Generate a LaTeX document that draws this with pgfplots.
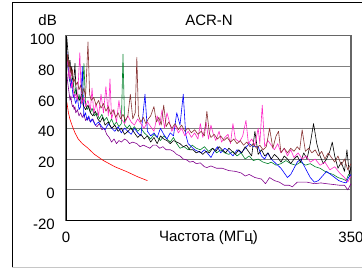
\documentclass[border=0pt]{standalone}
\usepackage{pgfplots}
\pgfplotsset{compat=1.18}
\usepackage{fontspec}
\setmainfont{Liberation Sans}
\definecolor{cgreen}{RGB}{0,128,40}
\definecolor{cpink}{RGB}{255,40,200}
\definecolor{cbrown}{RGB}{135,50,50}
\definecolor{cpurple}{RGB}{128,0,140}
\definecolor{cblue}{RGB}{0,0,255}
\definecolor{gridgray}{RGB}{128,128,128}
\begin{document}
\begin{tikzpicture}
\useasboundingbox (0,0) rectangle (362bp,269bp);
\draw[black, line width=0.8bp] (363bp,266.5bp) -- (12.3bp,266.5bp) -- (12.3bp,1.7bp);
\draw[gray!45, line width=0.8bp] (12.3bp,1.7bp) -- (363bp,1.7bp);
\begin{axis}[
  at={(66bp,48.3bp)}, anchor=south west,
  scale only axis, width=285bp, height=185bp,
  xmin=0, xmax=350, ymin=-20, ymax=100,
  xtick={0,350}, ytick={-20,0,20,40,60,80,100},
  major tick length=0pt,
  ymajorgrids, grid style={gridgray, line width=0.9bp},
  axis line style={draw=gray!80!black, line width=1.2bp},
  font=\fontsize{15bp}{18bp}\selectfont,
  /pgf/number format/assume math mode=true,
  ticklabel style={font=\fontsize{15bp}{18bp}\selectfont},
  yticklabel style={anchor=east, inner sep=0pt, xshift=-11bp, yshift=-3.5bp},
  xticklabel style={anchor=base, inner sep=0pt, yshift=-22bp},
  xlabel={Частота (МГц)},
  xlabel style={at={(0.5,0)}, anchor=base, inner sep=0pt, yshift=-21bp, font=\fontsize{15bp}{18bp}\selectfont},
  every axis plot/.append style={line width=0.6bp, line join=round},
]
% purple
\addplot[cpurple] coordinates {(1,76)(2,70)(3,66)(4,62)(5,58)(6,61)(7,56)(8,54)(9,55)(10,52)(11,54)(12,50)(14,52)(16,48)(18,50)(20,47)(22,49)(24,45)(27,47)(30,44)(33,46)(36,42)(38,41)(41,43)(44,39)(47,40)(50,36)(53,34)(56,31)(59,33)(62,30)(65,32)(68,31)(72,33)(75,32)(78,30)(82,31)(87,30)(91,28)(95,29)(99,28)(103,27)(107,29)(111,29)(115,27)(119,28)(123,26)(128,26)(132,25)(136,23)(140,22)(144,20)(148,19.5)(152,18)(156,18.5)(160,17)(165,17.5)(170,15)(173,14.5)(178,15.5)(185,14)(192,14)(200,12.5)(208,12)(215,11)(220,9)(225,10)(232,8)(240,7)(245,4)(250,8)(256,6)(262,5)(268,3)(274,3)(278,2)(284,5)(290,5)(296,5)(305,4)(313,4.5)(320,4)(328,3.5)(336,3)(342,3)(346,0)(350,4)};
% green
\addplot[cgreen] coordinates {(1,85)(2,80)(3,76)(4,72)(5,70)(6,74)(7,68)(8,66)(9,70)(10,64)(11,62)(12,66)(14,60)(15,58)(16,62)(18,56)(20,58)(22,82)(24,56)(26,52)(28,54)(30,50)(32,53)(35,48)(38,50)(41,46)(44,49)(47,45)(50,47)(53,43)(56,46)(59,42)(62,44)(65,41)(68,43)(70,88)(72,42)(75,40)(78,42)(81,39)(84,41)(88,38)(92,40)(96,37)(100,35)(104,33)(108,36)(112,34)(116,32)(120,35)(124,33)(128,31)(132,34)(136,30)(140,27)(145,28)(150,26)(155,29)(160,27)(165,26)(170,28)(175,25)(180,27)(185,24)(190,26)(195,24)(200,23)(205,25)(210,22)(215,24)(220,20)(225,22)(230,19)(236,20)(242,18)(248,17)(252,18)(258,16)(264,17)(270,19)(276,17)(282,16)(288,18)(294,16)(300,17)(306,15)(312,14)(318,12)(322,11)(328,10)(334,8)(340,7)(344,6)(347,10)(350,8)};
% blue
\addplot[cblue] coordinates {(1,90)(2,84)(3,78)(4,74)(5,70)(6,66)(7,72)(8,64)(9,60)(10,62)(11,58)(12,56)(14,60)(16,52)(18,54)(20,80)(22,47)(24,50)(26,45)(28,48)(30,44)(32,46)(36,42)(40,44)(44,41)(48,39)(52,43)(56,40)(60,38)(64,41)(68,37)(72,40)(76,38)(80,36)(84,40)(88,37)(92,35)(97,62)(100,38)(104,35)(108,37)(112,34)(116,40)(120,36)(124,33)(128,37)(132,35)(136,50)(140,42)(144,62)(147,36)(150,30)(154,28)(158,26)(162,25)(166,24)(170,26)(175,23)(178,21)(182,25)(186,28)(190,24)(195,27)(200,25)(205,22)(210,26)(215,24)(220,27)(225,30)(230,28)(236,28)(240,22)(244,20)(248,24)(252,20)(256,18)(260,16)(264,14)(268,11)(272,8)(276,10)(280,14)(284,18)(288,20)(292,16)(296,12)(300,8)(305,5)(310,6)(315,9)(320,12)(325,10)(330,8)(335,6)(340,5)(344,4.5)(347,8)(350,10)};
% black
\addplot[black] coordinates {(1,99)(2,92)(3,86)(4,80)(5,84)(6,76)(7,80)(8,72)(9,70)(10,74)(11,82)(12,68)(13,62)(15,60)(17,58)(19,62)(21,55)(24,52)(27,55)(30,50)(33,48)(36,51)(39,46)(42,44)(45,47)(48,42)(52,44)(56,40)(60,42)(64,38)(68,40)(72,36)(76,38)(80,40)(84,37)(88,34)(92,36)(96,33)(100,35)(104,31)(108,34)(112,30)(116,35)(120,33)(124,32)(128,30)(132,32)(136,31)(140,30)(144,28)(148,29)(152,26)(156,26)(160,24)(164,25)(168,23)(172,25)(176,24)(180,27)(184,25)(188,28)(192,26)(196,24)(200,27)(204,25)(208,23)(212,26)(216,24)(220,28)(224,25)(228,22)(232,38)(236,23)(240,26)(244,22)(248,24)(252,20)(256,23)(260,21)(264,18)(268,22)(272,20)(276,17)(280,20)(284,22)(288,18)(292,24)(296,20)(300,30)(304,43)(308,30)(312,22)(316,17)(320,20)(324,25)(327,31)(330,22)(334,14)(338,18)(342,12)(345,26)(348,10)(350,15)};
% pink
\addplot[cpink] coordinates {(1,88)(2,82)(3,76)(4,72)(5,78)(6,70)(7,66)(8,70)(9,64)(10,60)(12,62)(14,58)(17,89)(19,56)(22,60)(24,54)(27,58)(30,52)(32,66)(34,50)(37,56)(40,48)(43,62)(46,50)(49,67)(52,48)(54,72)(56,46)(59,52)(62,44)(65,58)(68,46)(72,43)(76,48)(80,44)(84,42)(88,46)(92,43)(96,40)(100,44)(104,41)(108,38)(112,48)(115,42)(118,52)(121,40)(124,50)(127,44)(130,38)(134,42)(138,37)(142,40)(146,35)(150,38)(154,34)(158,37)(162,33)(165,43)(168,34)(172,44)(175,33)(178,42)(181,36)(184,32)(188,38)(191,31)(195,34)(199,36)(202,30)(205,43)(208,33)(213,31)(217,35)(221,45)(224,30)(228,33)(232,29)(236,40)(238,30)(241,55)(244,28)(248,32)(252,29)(256,26)(260,30)(264,24)(268,27)(272,22)(276,26)(280,21)(285,24)(290,20)(295,22)(300,18)(306,20)(312,16)(318,18)(324,13)(330,15)(336,11)(342,8)(346,5)(350,9)};
% brown
\addplot[cbrown] coordinates {(1,82)(2,88)(3,80)(4,84)(5,76)(6,80)(7,74)(8,78)(9,70)(10,72)(12,68)(14,70)(16,65)(18,68)(20,62)(22,66)(24,60)(27,96)(29,62)(31,58)(34,60)(37,55)(40,58)(43,53)(46,56)(49,51)(52,54)(55,49)(58,52)(61,47)(64,50)(67,46)(70,49)(73,45)(76,48)(79,62)(82,46)(85,50)(87,86)(89,48)(92,44)(95,47)(98,43)(101,46)(104,48)(108,54)(111,44)(114,47)(117,42)(120,55)(123,41)(126,44)(130,40)(134,43)(138,39)(142,42)(146,38)(150,40)(154,37)(158,39)(162,36)(166,38)(170,35)(173,51)(176,37)(178,34)(182,36)(186,33)(190,35)(194,32)(198,34)(202,31)(206,33)(210,30)(214,32)(218,29)(222,31)(226,28)(230,30)(234,27)(238,29)(242,26)(246,28)(250,40)(254,27)(258,35)(261,38)(264,24)(268,27)(272,24)(276,27)(280,25)(284,28)(287,26)(290,39)(294,25)(298,27)(302,24)(306,26)(310,22)(314,25)(318,20)(322,24)(326,21)(330,18)(334,22)(338,16)(342,20)(346,13)(350,17)};
% red
\addplot[red] coordinates {(1,57)(3,50)(5,45.5)(8,41)(11,37)(15,33)(20,30)(26,27.5)(35,23)(46,19)(60,15)(75,11.7)(88,8.5)(100,6)};
\draw[black, line width=1bp] (rel axis cs:0,1) -- (rel axis cs:0,0) -- (rel axis cs:1,0);
\end{axis}
\node[anchor=base, inner sep=0pt, font=\fontsize{15bp}{18bp}\selectfont] at (209bp,243bp) {ACR-N};
\node[anchor=base east, inner sep=0pt, font=\fontsize{15bp}{18bp}\selectfont] at (57bp,243bp) {dB};
\end{tikzpicture}
\end{document}
